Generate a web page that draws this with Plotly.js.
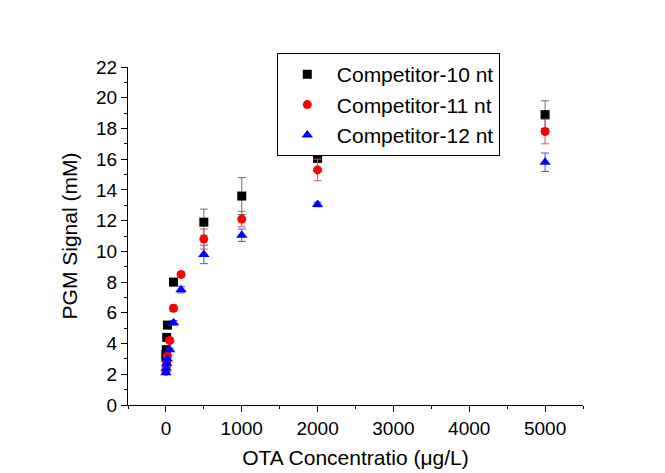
<!DOCTYPE html>
<html><head><meta charset="utf-8">
<script src="https://cdn.plot.ly/plotly-3.0.1.min.js"></script>
<style>html,body{margin:0;padding:0;background:#fff}#chart{width:665px;height:473px}</style>
</head><body><div id="chart"></div>
<script>
// Data
const seriesNames = ["Competitor-10 nt", "Competitor-11 nt", "Competitor-12 nt"];
const xBlack = [0, 1, 5, 10, 20, 100, 500, 1000, 2000, 5000];
const yBlack = [3.1, 3.3, 3.6, 4.4, 5.2, 8.0, 11.9, 13.6, 16.05, 18.9];
const eBlack = [0.1, 0.1, 0.1, 0.1, 0.1, 0.15, 0.85, 1.2, 0.15, 0.9];
const xRed = [0, 5, 10, 20, 50, 100, 200, 500, 1000, 2000, 5000];
const yRed = [2.2, 2.5, 2.8, 3.2, 4.2, 6.3, 8.5, 10.8, 12.1, 15.3, 17.8];
const eRed = [0.1, 0.1, 0.1, 0.1, 0.15, 0.2, 0.15, 0.65, 0.5, 0.7, 0.8];
const xBlue = [0, 5, 10, 20, 50, 100, 200, 500, 1000, 2000, 5000];
const yBlue = [2.1, 2.4, 2.7, 3.0, 3.6, 5.35, 7.5, 9.8, 11.05, 13.05, 15.8];
const eBlue = [0.1, 0.1, 0.1, 0.1, 0.1, 0.15, 0.2, 0.6, 0.4, 0.15, 0.6];

const font = "Arial, 'Liberation Sans', sans-serif";
function tr(x, y, e, name, sym, col, ecol, size) {
  return {x: x, y: y, name: name, type: 'scatter', mode: 'markers',
    marker: {symbol: sym, color: col, size: size},
    error_y: {type: 'data', array: e, visible: true, color: ecol, thickness: 1, width: 4}};
}
const data = [
  tr(xBlack, yBlack, eBlack, seriesNames[0], 'square', '#000000', '#707070', 9),
  tr(xRed, yRed, eRed, seriesNames[1], 'circle', '#ff0000', '#e05050', 9),
  tr(xBlue, yBlue, eBlue, seriesNames[2], 'triangle-up', '#0000ff', '#5050e0', 10)
];
const layout = {
  width: 665, height: 473,
  margin: {l: 128, r: 82, t: 67, b: 68},
  paper_bgcolor: '#fff', plot_bgcolor: '#fff',
  font: {family: font, size: 19, color: '#000'},
  showlegend: true,
  legend: {x: 0.327, y: 1.041, xanchor: 'left', yanchor: 'top', bordercolor: '#000', borderwidth: 1,
    bgcolor: '#fff', font: {family: font, size: 21, color: '#000'}, itemwidth: 49, tracegroupgap: 0},
  xaxis: {range: [-500, 5500], tickvals: [0, 1000, 2000, 3000, 4000, 5000], ticks: 'outside', ticklen: 6,
    tickcolor: '#000', showline: true, linecolor: '#000', linewidth: 1, showgrid: false, zeroline: false,
    minor: {dtick: 500, tick0: 500, ticks: 'outside', ticklen: 3, tickcolor: '#000'},
    tickfont: {family: font, size: 19},
    title: {text: 'OTA Concentratio (μg/L)', font: {family: font, size: 21}, standoff: 12}},
  yaxis: {range: [0, 22], dtick: 2, ticks: 'outside', ticklen: 6, tickcolor: '#000', showline: true,
    linecolor: '#000', linewidth: 1, showgrid: false, zeroline: false,
    minor: {dtick: 1, ticks: 'outside', ticklen: 3, tickcolor: '#000'},
    tickfont: {family: font, size: 19},
    title: {text: 'PGM Signal (mM)', font: {family: font, size: 21}, standoff: 12}}
};
Plotly.newPlot('chart', data, layout, {displayModeBar: false, staticPlot: true});
</script></body></html>
